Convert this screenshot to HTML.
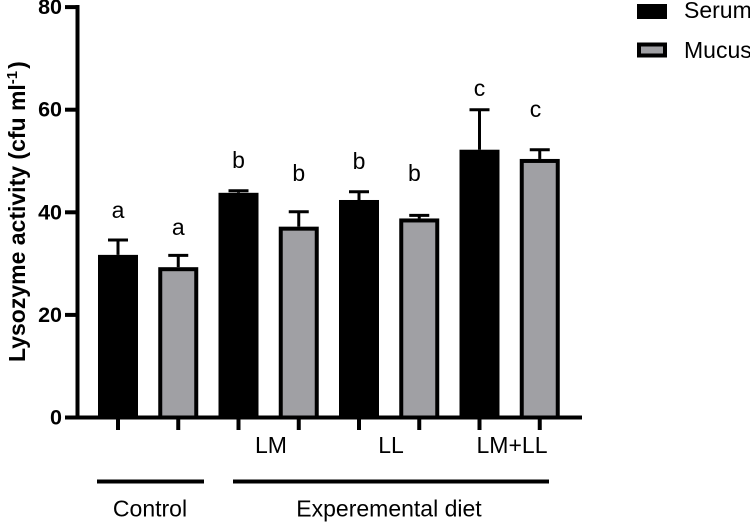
<!DOCTYPE html>
<html>
<head>
<meta charset="utf-8">
<style>
html,body{margin:0;padding:0;background:#fff;}
svg{display:block;font-family:"Liberation Sans",Arial,sans-serif;}
</style>
</head>
<body>
<svg id="chart" xmlns="http://www.w3.org/2000/svg" width="750" height="522" viewBox="0 0 750 522"></svg>
<script>
const categories = ['Control Serum','Control Mucus','LM Serum','LM Mucus','LL Serum','LL Mucus','LM+LL Serum','LM+LL Mucus'];
const seriesValues = [31.7,29.3,43.8,37.2,42.4,38.8,52.2,50.4];
const errorTops = [34.6,31.6,44.2,40.1,44.0,39.4,60.0,52.2];
const seriesKinds = ['Serum','Mucus','Serum','Mucus','Serum','Mucus','Serum','Mucus'];
const sigLetters = ['a','a','b','b','b','b','c','c'];
const sigLetterLevels = [38.9,35.6,48.6,46.1,48.4,46.1,62.7,58.6];
const sigLetterSlots = [0,1,2,3,4,4.92,6,6.93];
const yTicks = [0,20,40,60,80];

const svg = document.getElementById('chart');
const NS = 'http://www.w3.org/2000/svg';
const yScale = v => 417.5 - v * 5.13;
const xScale = i => 118 + i * 60.25;

function make(tag, attrs, text) {
  const el = document.createElementNS(NS, tag);
  for (const k in attrs) el.setAttribute(k, attrs[k]);
  if (text !== undefined) el.textContent = text;
  svg.appendChild(el);
  return el;
}

categories.forEach((c, i) => {
  const x = xScale(i), top = yScale(seriesValues[i]), capY = yScale(errorTops[i]);
  const slug = c.toLowerCase().replace(/[^a-z]+/g, '-');
  const stem = make('line', {x1:x, x2:x, y1:capY, y2:top, stroke:'#000', 'stroke-width':3});
  
  
  const cap = make('line', {x1:x-10, x2:x+10, y1:capY, y2:capY, stroke:'#000', 'stroke-width':3});
  
  
  const serum = seriesKinds[i] === 'Serum';
  const bar = make('rect', {x:x-18, y:top+2, width:36, height:yScale(0)-top-2,
    fill: serum ? '#000' : '#a0a0a4', stroke:'#000', 'stroke-width':4});
  
  
  const sig = make('text', {x:xScale(sigLetterSlots[i]), y:yScale(sigLetterLevels[i]), 'font-size':23, 'text-anchor':'middle', fill:'#000'}, sigLetters[i]);
  
  
  const tick = make('line', {x1:x, x2:x, y1:417.5, y2:430, stroke:'#000', 'stroke-width':4});
  
  
});

yTicks.forEach(t => {
  const y = yScale(t);
  const tick = make('line', {x1:65, x2:79, y1:y, y2:y, stroke:'#000', 'stroke-width':4});
  
  
  const label = make('text', {x:62, y:y+7, 'font-size':21.5, 'font-weight':'bold', 'text-anchor':'end', fill:'#000'}, t);
  
  
});
</script>
<script>
(function(){
  const svg = document.getElementById('chart');
  const markup = `
  <line x1="77.5" x2="77.5" y1="5" y2="419.5" stroke="#000" stroke-width="4"/>
  <line x1="75.5" x2="582" y1="417.5" y2="417.5" stroke="#000" stroke-width="4"/>
  <text transform="translate(25,362) rotate(-90)" font-size="23" font-weight="bold" fill="#000">Lysozyme activity (cfu ml<tspan font-size="15" dy="-8">-1</tspan><tspan dy="8" dx="2">)</tspan></text>
  <text x="271" y="453" font-size="23" text-anchor="middle" fill="#000">LM</text>
  <text x="391" y="453" font-size="23" text-anchor="middle" fill="#000">LL</text>
  <text x="512" y="453" font-size="23" text-anchor="middle" fill="#000">LM+LL</text>
  <line x1="97" x2="204" y1="481.5" y2="481.5" stroke="#000" stroke-width="4"/>
  <line x1="233" x2="549" y1="481.5" y2="481.5" stroke="#000" stroke-width="4"/>
  <text x="150" y="516.5" font-size="23" text-anchor="middle" fill="#000">Control</text>
  <text x="389" y="516.5" font-size="23" text-anchor="middle" fill="#000">Experemental diet</text>
  <rect x="637" y="4" width="30" height="15" fill="#000"/>
  <text x="684" y="18" font-size="23" fill="#000">Serum</text>
  <rect x="639" y="44.5" width="26" height="11" fill="#a0a0a4" stroke="#000" stroke-width="4"/>
  <text x="684" y="58" font-size="23" fill="#000">Mucus</text>`;
  svg.insertAdjacentHTML('beforeend', markup);
})();
</script>
</body>
</html>
